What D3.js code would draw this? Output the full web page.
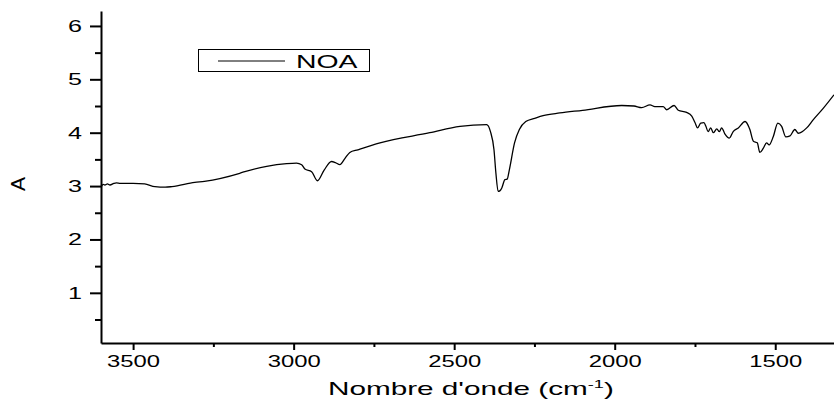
<!DOCTYPE html>
<html><head><meta charset="utf-8">
<script src="https://cdn.jsdelivr.net/npm/d3@7"></script>
<style>
html,body{margin:0;padding:0;background:#fff;}
svg{display:block;font-family:"Liberation Sans",Arial,sans-serif;}
</style></head>
<body>
<svg id="c" width="834" height="399"></svg>
<script>
// ---- data ----
const seriesName = "NOA";
const wavenumbers = [3598,3593,3588,3580,3572,3560,3552,3540,3500,3464,3432,3400,3379,3308,3278,3168,3152,3084,3022,2991,2975,2965,2944,2926,2905,2882,2870,2856,2840,2825,2800,2731,2576,2482,2399,2387,2376,2370,2363,2358,2352,2342,2335,2328,2312,2297,2277,2249,2223,2171,2100,1978,1940,1916,1890,1875,1849,1838,1815,1802,1776,1760,1750,1742,1732,1722,1716,1709,1701,1693,1682,1674,1667,1657,1643,1631,1615,1594,1579,1568,1556,1548,1537,1527,1519,1506,1492,1480,1467,1454,1439,1428,1402,1382,1350,1317];
const absorbance = [3.00,3.03,3.02,3.04,3.02,3.05,3.06,3.05,3.05,3.04,2.99,2.98,2.99,3.07,3.09,3.24,3.27,3.37,3.42,3.43,3.40,3.32,3.27,3.10,3.30,3.46,3.44,3.40,3.52,3.63,3.68,3.81,4.00,4.12,4.15,4.02,3.68,3.24,2.90,2.91,2.96,3.12,3.13,3.31,3.81,4.06,4.21,4.27,4.32,4.37,4.42,4.51,4.50,4.47,4.52,4.49,4.49,4.43,4.51,4.42,4.38,4.31,4.19,4.09,4.18,4.19,4.12,4.02,4.09,4.00,4.07,4.02,4.09,3.98,3.90,4.02,4.09,4.21,4.06,3.84,3.81,3.63,3.71,3.81,3.77,3.93,4.18,4.12,3.92,3.94,4.06,3.99,4.09,4.24,4.46,4.71];
const xMajorTicks = [3500,3000,2500,2000,1500];
const xMinorTicks = [3250,2750,2250,1750];
const yMajorTicks = [1,2,3,4,5,6];
const yMinorTicks = [0.5,1.5,2.5,3.5,4.5,5.5];
const xTitle = "Nombre d'onde (cm";
const xTitleSup = "-1";
const yTitle = "A";

// ---- layout ----
const svg = d3.select("#c");
const L = 101, R = 834, T = 11, B = 343;
const x = d3.scaleLinear().domain([3600, 1317]).range([L, R]);
const y = d3.scaleLinear().domain([0.06, 6.28]).range([B, T]);

function stretch(textSel, targetW){
  textSel.each(function(){
    const w = this.getBBox().width;
    const s = targetW / w;
    const ax = +d3.select(this).attr("x") || 0;
    d3.select(this).attr("x", ax / s).attr("transform", `scale(${s},1)`);
  });
}

// x axis minor ticks
svg.append("g").attr("transform",`translate(0,${B})`)
  .call(d3.axisBottom(x).tickValues(xMinorTicks).tickSize(4).tickFormat(""))
  .call(g=>g.select(".domain").remove())
  .call(g=>g.selectAll("line").attr("stroke-width",2));
const gx = svg.append("g").attr("transform",`translate(0,${B})`)
  .call(d3.axisBottom(x).tickValues(xMajorTicks).tickSize(7).tickSizeOuter(0).tickPadding(5).tickFormat(d3.format("d")));
gx.select(".domain").attr("stroke-width",2);
gx.selectAll("line").attr("stroke-width",2);
gx.selectAll("text").attr("font-size",17).attr("font-family","Liberation Sans, Arial, sans-serif").attr("fill","#000");
gx.selectAll("text").each(function(){ stretch(d3.select(this), 53); });

// y axis
svg.append("g").attr("transform",`translate(${L},0)`)
  .call(d3.axisLeft(y).tickValues(yMinorTicks).tickSize(6).tickFormat(""))
  .call(g=>g.select(".domain").remove())
  .call(g=>g.selectAll("line").attr("stroke-width",2));
const gy = svg.append("g").attr("transform",`translate(${L},0)`)
  .call(d3.axisLeft(y).tickValues(yMajorTicks).tickSize(11).tickSizeOuter(0).tickPadding(8).tickFormat(d3.format("d")));
gy.select(".domain").attr("stroke-width",2);
gy.selectAll("line").attr("stroke-width",2);
gy.selectAll("text").attr("font-size",17).attr("font-family","Liberation Sans, Arial, sans-serif").attr("fill","#000");
gy.selectAll("text").each(function(){ stretch(d3.select(this), 14); });

// curve
const data = wavenumbers.map((w,i)=>({w, a:absorbance[i]}));
svg.append("path").datum(data)
  .attr("fill","none").attr("stroke","#000").attr("stroke-width",1.3)
  .attr("d", d3.line().x(d=>x(d.w)).y(d=>y(d.a)).curve(d3.curveMonotoneX));

// legend
svg.append("rect").attr("x",198.5).attr("y",49.5).attr("width",171).attr("height",22)
  .attr("fill","#fff").attr("stroke","#000").attr("stroke-width",1);
svg.append("line").attr("x1",218).attr("x2",285).attr("y1",61).attr("y2",61)
  .attr("stroke","#000").attr("stroke-width",1);
const lt = svg.append("text").attr("x",296).attr("y",67.7).attr("font-size",17.5).text(seriesName);
stretch(lt, 62);

// x title
const xt = svg.append("text").attr("x",328).attr("y",395).attr("font-size",18);
xt.append("tspan").text(xTitle);
xt.append("tspan").attr("dy",-7).attr("font-size",11).text(xTitleSup);
xt.append("tspan").attr("dy",7).text(")");
stretch(xt, 286);

// y title
svg.append("text").attr("transform","translate(25,184) rotate(-90)")
  .attr("text-anchor","middle").attr("font-size",21).text(yTitle);
</script>
</body></html>
